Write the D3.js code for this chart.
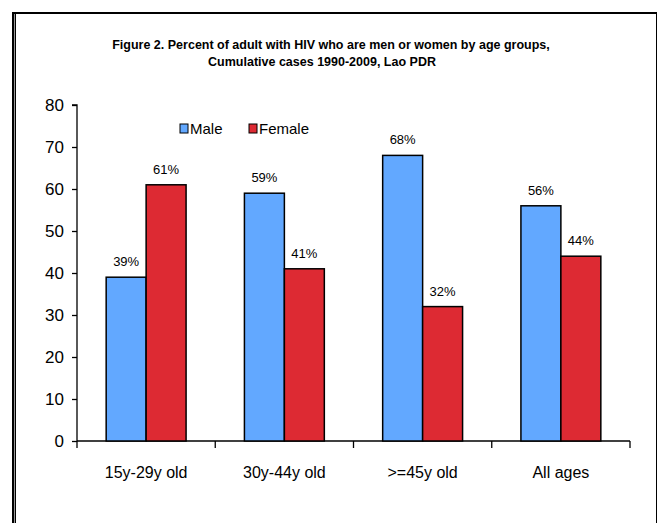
<!DOCTYPE html>
<html>
<head>
<meta charset="utf-8">
<script src="https://cdn.jsdelivr.net/npm/d3@7"></script>
<style>
  body { margin: 0; background: #fff; }
  svg text { font-family: Arial, "Liberation Sans", sans-serif; fill: #000; }
</style>
</head>
<body>
<svg id="chart" width="658" height="523"></svg>
<script>
// data
var groups = ["15y-29y old", "30y-44y old", ">=45y old", "All ages"];
var seriesNames = ["Male", "Female"];
var male = [39, 59, 68, 56];
var female = [61, 41, 32, 44];
var yTicks = [0, 10, 20, 30, 40, 50, 60, 70, 80];
var colors = ["#62A8FF", "#DD2A33"];

var svg = d3.select("#chart");

// frame round the figure
svg.append("line").attr("x1", 12).attr("y1", 13).attr("x2", 657).attr("y2", 13)
    .style("stroke", "#000").style("stroke-width", 2);
svg.append("line").attr("x1", 13).attr("y1", 12).attr("x2", 13).attr("y2", 523)
    .style("stroke", "#000").style("stroke-width", 2);
svg.append("line").attr("x1", 14.5).attr("y1", 14).attr("x2", 14.5).attr("y2", 523)
    .style("stroke", "#999").style("stroke-width", 1);
svg.append("line").attr("x1", 15.5).attr("y1", 14).attr("x2", 15.5).attr("y2", 523)
    .style("stroke", "#000").style("stroke-width", 1);
svg.append("line").attr("x1", 656.5).attr("y1", 12).attr("x2", 656.5).attr("y2", 523)
    .style("stroke", "#000").style("stroke-width", 1);

// title
var title = svg.append("text")
    .attr("text-anchor", "middle")
    .style("font-size", "12.5px")
    .style("font-weight", "bold");
title.append("tspan").attr("x", 331).attr("y", 49)
    .text("Figure 2. Percent of adult with HIV who are men or women by age groups,");
title.append("tspan").attr("x", 322).attr("y", 66)
    .text("Cumulative cases 1990-2009, Lao PDR");

var x0 = 77, x1 = 630, yTop = 105, yBottom = 441;

var x = d3.scaleBand().domain(groups).range([x0, x1]).paddingInner(0).paddingOuter(0);
var xs = d3.scaleBand().domain(seriesNames).range([0, x.bandwidth()]).paddingInner(0).paddingOuter(0.73);
var y = d3.scaleLinear().domain([0, 80]).range([yBottom, yTop]);

// y axis
var yAxis = svg.append("g")
    .attr("transform", "translate(" + x0 + ",0)")
    .call(d3.axisLeft(y).tickValues(yTicks).tickSize(5).tickPadding(8).tickFormat(d3.format("d")));
yAxis.selectAll("path, line").style("stroke", "#000").style("stroke-width", 1.3);
yAxis.select(".domain").attr("d", "M0," + yBottom + "V" + yTop + "H-5");
yAxis.selectAll("text").style("font-size", "17px").style("font-family", "Arial, 'Liberation Sans', sans-serif");

// x axis with ticks at band boundaries
var xAxis = svg.append("g").attr("transform", "translate(0," + yBottom + ")");
xAxis.append("line").attr("x1", x0).attr("x2", x1).attr("y1", 0).attr("y2", 0)
    .style("stroke", "#000").style("stroke-width", 1.3);
var bounds = groups.map(function (g) { return x(g); }).concat([x1]);
xAxis.selectAll(".xtick").data(bounds).enter().append("line")
    .attr("class", "xtick")
    .attr("x1", function (d) { return d; }).attr("x2", function (d) { return d; })
    .attr("y1", 0).attr("y2", 7)
    .style("stroke", "#000").style("stroke-width", 1.3);
xAxis.selectAll(".xlab").data(groups).enter().append("text")
    .attr("class", "xlab")
    .attr("x", function (d) { return x(d) + x.bandwidth() / 2; })
    .attr("y", 37)
    .attr("text-anchor", "middle")
    .style("font-size", "16px")
    .text(function (d) { return d; });

// bars
var rows = [];
groups.forEach(function (g, i) {
    rows.push({ group: g, series: "Male", value: male[i], color: colors[0] });
    rows.push({ group: g, series: "Female", value: female[i], color: colors[1] });
});

svg.selectAll(".bar").data(rows).enter().append("rect")
    .attr("class", "bar")
    .attr("x", function (d) { return x(d.group) + xs(d.series); })
    .attr("y", function (d) { return y(d.value); })
    .attr("width", xs.bandwidth())
    .attr("height", function (d) { return y(0) - y(d.value); })
    .style("fill", function (d) { return d.color; })
    .style("stroke", "#000")
    .style("stroke-width", 1.5);

svg.selectAll(".val").data(rows).enter().append("text")
    .attr("class", "val")
    .attr("x", function (d) { return x(d.group) + xs(d.series) + xs.bandwidth() / 2; })
    .attr("y", function (d) { return y(d.value) - 11; })
    .attr("text-anchor", "middle")
    .style("font-size", "13px")
    .text(function (d) { return d.value + "%"; });

// legend
var legend = svg.append("g");
var legendX = [180, 249];
seriesNames.forEach(function (s, i) {
    legend.append("rect")
        .attr("x", legendX[i]).attr("y", 124)
        .attr("width", 8).attr("height", 9)
        .style("fill", colors[i]).style("stroke", "#000").style("stroke-width", 1);
    legend.append("text")
        .attr("x", legendX[i] + 10).attr("y", 134)
        .style("font-size", "15px")
        .text(s);
});
</script>
</body>
</html>
